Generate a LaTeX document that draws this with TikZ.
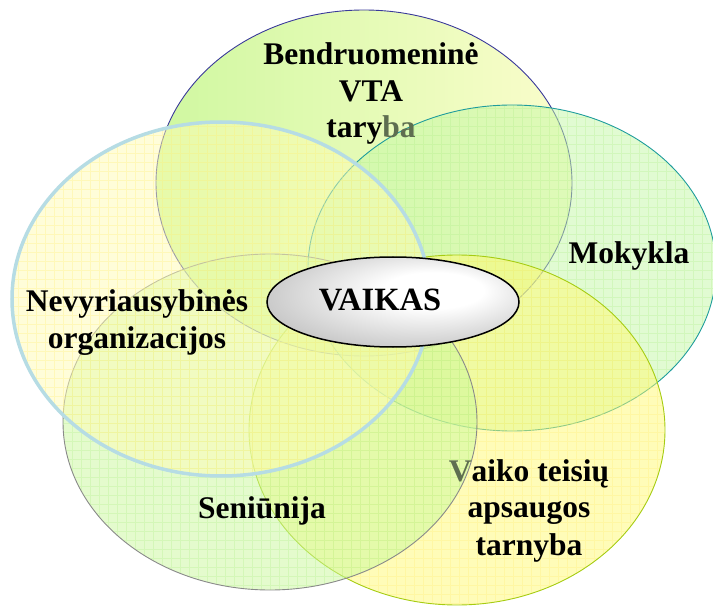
\documentclass[tikz,border=0pt]{standalone}
\usepackage{fontspec}
\setmainfont{Liberation Serif}
\usetikzlibrary{shapes.geometric}
\definecolor{topL}{HTML}{CFF8A0}
\definecolor{topR}{HTML}{FBFDCC}
\definecolor{topB}{HTML}{3A3A9A}
\definecolor{mokF}{HTML}{C4F8A6}
\definecolor{mokB}{HTML}{1E9C9C}
\definecolor{vaiF}{HTML}{FFF972}
\definecolor{vaiB}{HTML}{A6CC12}
\definecolor{senF}{HTML}{CAF89C}
\definecolor{senB}{HTML}{8A8A8A}
\definecolor{nevF}{HTML}{FFFCB4}
\definecolor{nevB}{HTML}{B6DCE4}
\definecolor{gridG}{HTML}{B0EE88}
\definecolor{gridY}{HTML}{FFEE70}
\definecolor{fadeV}{HTML}{5E6E50}
\pgfdeclareradialshading{vaikshade}{\pgfpoint{10bp}{8bp}}{color(0bp)=(white); color(10bp)=(white); color(38bp)=(black!30); color(50bp)=(black!48)}
\begin{document}
\begin{tikzpicture}[x=1pt,y=-1pt,
  lbl/.style={font=\fontsize{31.5}{36}\selectfont\bfseries, anchor=base, inner sep=0pt},
  ringfill/.style={fill opacity=0.5},
  gridline/.style={line width=0.5pt, opacity=0.3, step=9pt}]
\useasboundingbox (0,0) rectangle (713,607);
% top ellipse
\shade[left color=topL, right color=topR] (364,183) ellipse [x radius=208, y radius=173];
\draw[topB, line width=0.9pt] (364,183) ellipse [x radius=208, y radius=173];
% Mokykla
\fill[mokF, ringfill] (512,268) ellipse [x radius=204, y radius=163];
\begin{scope}
  \clip (512,268) ellipse [x radius=204, y radius=163];
  \draw[gridG, gridline] (300,100) grid (720,440);
\end{scope}
\draw[mokB, line width=0.9pt] (512,268) ellipse [x radius=204, y radius=163];
% Vaiko
\fill[vaiF, ringfill] (457,430) ellipse [x radius=208, y radius=175];
\begin{scope}
  \clip (457,430) ellipse [x radius=208, y radius=175];
  \draw[gridY, gridline] (240,250) grid (670,610);
\end{scope}
\draw[vaiB, line width=0.9pt] (457,430) ellipse [x radius=208, y radius=175];
% Seniunija
\fill[senF, ringfill] (270,422) ellipse [x radius=207, y radius=168];
\begin{scope}
  \clip (270,422) ellipse [x radius=207, y radius=168];
  \draw[gridG, gridline] (60,250) grid (480,595);
\end{scope}
\draw[senB, line width=0.9pt] (270,422) ellipse [x radius=207, y radius=168];
% Nevyriausybines
\fill[nevF, ringfill] (221,299) ellipse [x radius=209, y radius=177];
\begin{scope}
  \clip (221,299) ellipse [x radius=209, y radius=177];
  \draw[gridY, gridline] (10,120) grid (432,480);
\end{scope}
\draw[nevB, line width=3.5pt] (221,299) ellipse [x radius=209, y radius=177];
% centre
\node[ellipse, draw=black, line width=1.5pt, shade, shading=vaikshade,
      minimum width=252pt, minimum height=90pt, inner sep=0pt] (vaikas) at (393,302) {};
\node[lbl, font=\fontsize{32.5}{36}\selectfont\bfseries] (vaikaslbl) at (380,310) {VAIKAS};
% labels
\node[lbl] (b1) at (371,65) {Bendruomeninė};
\node[lbl] (b2) at (371,102) {VTA};
\node[lbl] (b3) at (371,138) {tary\textcolor{fadeV}{ba}};
\node[lbl] (mok) at (629,263) {Mokykla};
\node[lbl] (n1) at (137,312) {Nevyriausybinės};
\node[lbl] (n2) at (137,348) {organizacijos};
\node[lbl] (sen) at (262,518) {Seniūnija};
\node[lbl] (v1) at (529,481) {\textcolor{fadeV}{V}aiko teisių};
\node[lbl] (v2) at (529,517) {apsaugos};
\node[lbl] (v3) at (529,555) {tarnyba};
\end{tikzpicture}
\end{document}
